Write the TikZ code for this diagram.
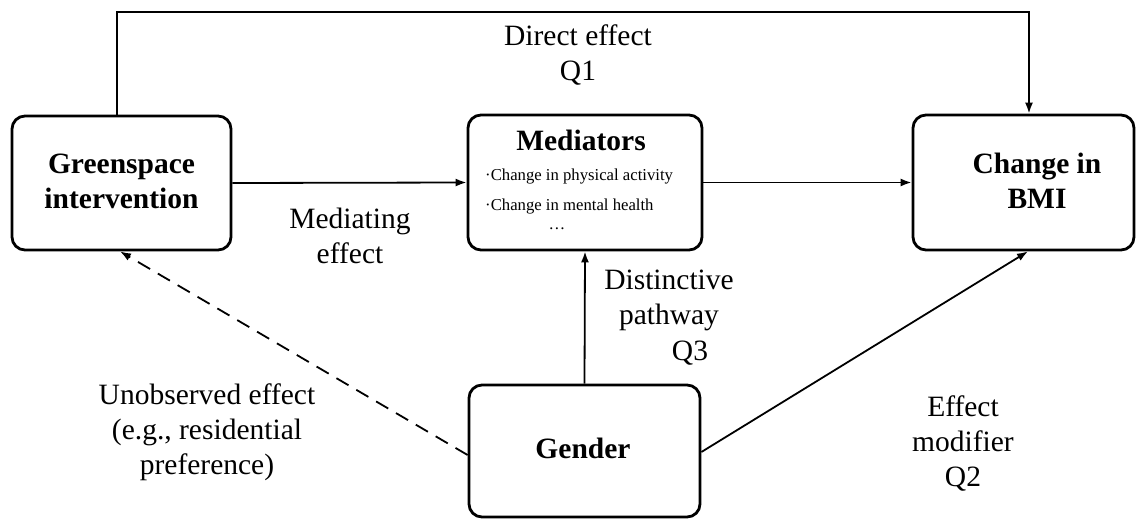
\documentclass[tikz,border=0pt]{standalone}
\usepackage{fontspec}
\setmainfont{Liberation Serif}
\usetikzlibrary{arrows.meta}
\begin{document}
\begin{tikzpicture}[x=1pt,y=-1pt,
  box/.style={draw,line width=2.8pt,rounded corners=13pt,inner sep=0pt},
  btxt/.style={font=\fontsize{29.5}{35}\selectfont\bfseries,align=center,inner sep=0pt},
  lbl/.style={font=\fontsize{29.5}{35}\selectfont,align=center,inner sep=0pt},
  itm/.style={font=\fontsize{16.7}{20}\selectfont,anchor=west,inner sep=0pt},
  conn/.style={line width=1.8pt},
  arr/.style={conn,-{Latex[length=11pt,width=8pt]}}]
\useasboundingbox (0,0) rectangle (1138,519);
% boxes
\node[box,minimum width=219pt,minimum height=134pt] (green) at (121.5,183) {};
\node[box,minimum width=234pt,minimum height=135pt] (med) at (585,182.5) {};
\node[box,minimum width=221pt,minimum height=135pt] (bmi) at (1023.5,182.5) {};
\node[box,minimum width=231pt,minimum height=132pt] (gender) at (584.5,451) {};
% box texts
\node[btxt] (greent) at (121.5,181) {Greenspace\\intervention};
\node[btxt] (medt) at (581,140) {Mediators};
\node[itm] (m1) at (485,177) {·Change in physical activity};
\node[itm] (m2) at (485,207) {·Change in mental health};
\node[itm,anchor=center] (m3) at (557,229) {…};
\node[btxt] (bmit) at (1037,181) {Change in\\BMI};
\node[btxt] (gendert) at (583,448) {Gender};
% connectors
\coordinate (d1) at (117,12);
\coordinate (d2) at (1029,12);
\draw[arr] (green.north -| d1) -- (d1) -- (d2) -- (bmi.north -| d2);
\draw[arr] (green.east) -- (med.west);
\draw[arr] (med.east) -- (bmi.west);
\draw[arr] (gender.north) -- (med.south);
\draw[arr] ([yshift=-1pt]gender.east) -- ([xshift=4.5pt]bmi.south);
\draw[arr,dash pattern=on 14pt off 9pt] ([yshift=-4pt]gender.west) -- ([xshift=-1.5pt]green.south);
% labels
\node[lbl] (ldir) at (578,55) {Direct effect\\Q1};
\node[lbl] (lmed) at (350,235.5) {Mediating\\effect};
\node[lbl] (ldis) at (669,300.5) {Distinctive\\pathway};
\node[lbl] (lq3) at (690,353) {Q3};
\node[lbl] (lunob) at (207,432) {Unobserved effect\\(e.g., residential\\preference)};
\node[lbl] (leff) at (963,444) {Effect\\modifier\\Q2};
\end{tikzpicture}
\end{document}
